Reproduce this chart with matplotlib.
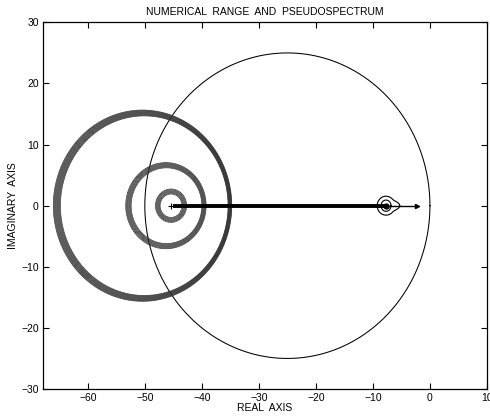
import numpy as np
import matplotlib
matplotlib.use("Agg")
import matplotlib.pyplot as plt

plt.rcParams['font.family'] = ['Liberation Sans', 'DejaVu Sans']

# Numerical range boundary (circle): center, radius
nr_center = -25.0
nr_radius = 25.0

# Pseudospectrum contour bands: (outer center, outer radius, inner center, inner radius)
band_outer_c = [-50.4, -46.3, -45.4]
band_outer_r = [15.65, 7.05, 2.73]
band_inner_c = [-50.1, -46.2, -45.4]
band_inner_r = [14.7, 6.2, 1.92]
band_lines = [11, 8, 7]

# Eigenvalue segment along the real axis
eig_left = -45.0
eig_mid = -7.7
eig_right = -2.2
eig_marker = -45.4

# Small contours around the isolated eigenvalue
small_center = -7.7
small_ring_r = 0.87
small_bulb_r = 1.55
small_bulb_neck = 0.85

xlim = (-67.85, 9.6)
ylim = (-30, 30)
xticks = [-60, -50, -40, -30, -20, -10, 0, 10]
yticks = [-30, -20, -10, 0, 10, 20, 30]

fig = plt.figure(figsize=(4.9, 4.19), dpi=100)
ax = fig.add_axes([0.0878, 0.0716, 0.906, 0.875])

t = np.linspace(0, 2 * np.pi, 721)

# numerical range
ax.plot(nr_center + nr_radius * np.cos(t), nr_radius * np.sin(t), color='black', lw=0.75)

# pseudospectrum bands
for oc, orad, ic, irad, n in zip(band_outer_c, band_outer_r, band_inner_c, band_inner_r, band_lines):
    for f in np.linspace(0, 1, n):
        c = oc + (ic - oc) * f
        r = orad + (irad - orad) * f
        ax.plot(c + r * np.cos(t), r * np.sin(t), color='#2e2e2e', lw=0.5)

# eigenvalue line
ax.plot([eig_left, eig_mid], [0, 0], color='black', lw=2.8, solid_capstyle='butt')
ax.plot([eig_mid, eig_right], [0, 0], color='black', lw=1.0)
ax.plot([eig_marker], [0], marker='+', color='black', ms=5, mew=0.8)
ax.plot([eig_right], [0], marker='>', color='black', ms=3)

# small contours
ax.plot(small_center + small_ring_r * np.cos(t), small_ring_r * np.sin(t) * 1.06, color='black', lw=0.8)
ax.plot([small_center], [0], marker='o', color='black', ms=3.5)
rb = small_bulb_r + small_bulb_neck * np.clip(np.cos(t), 0, None) ** 14
ax.plot(small_center + rb * np.cos(t), rb * np.sin(t) * 1.0, color='black', lw=0.8)

ax.set_xlim(*xlim)
ax.set_ylim(*ylim)
ax.set_xticks(xticks)
ax.set_yticks(yticks)
ax.tick_params(direction='in', length=4, width=0.8, labelsize=7.5, top=True, right=True, pad=3)
for s in ax.spines.values():
    s.set_linewidth(0.9)

ax.set_title('NUMERICAL  RANGE  AND  PSEUDOSPECTRUM', fontsize=7.5, pad=5)
ax.set_xlabel('REAL  AXIS', fontsize=7.5, labelpad=0)
ax.set_ylabel('IMAGINARY  AXIS', fontsize=7.5, labelpad=2)

fig.savefig('out.png', dpi=100)
